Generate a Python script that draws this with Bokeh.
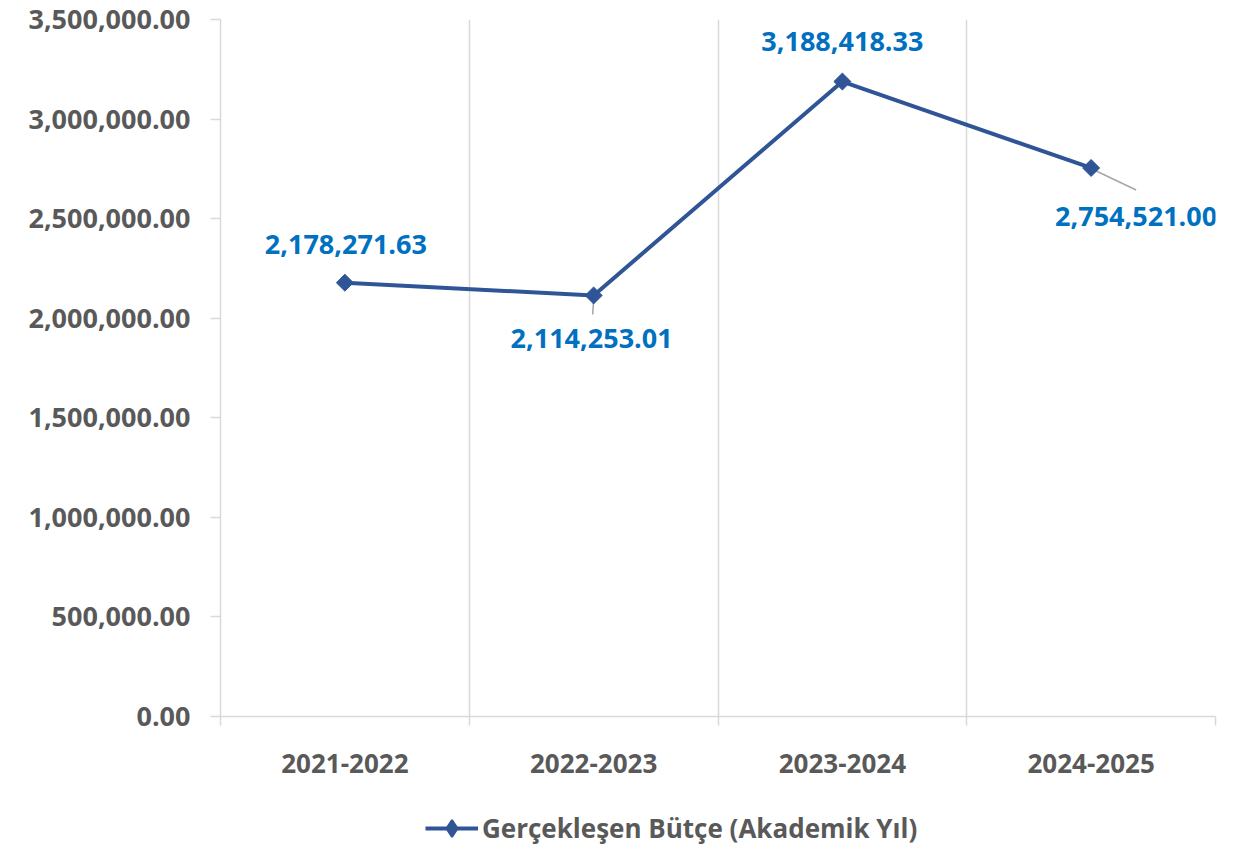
import numpy as np
from bokeh.plotting import figure
from bokeh.layouts import column
from bokeh.models import (ColumnDataSource, Range1d, FixedTicker, NumeralTickFormatter,
                          Legend, LegendItem)
from bokeh.core.properties import value
from bokeh.embed import file_html
from bokeh.resources import INLINE

# ---- data ----
categories = ["2021-2022", "2022-2023", "2023-2024", "2024-2025"]
budget = [2178271.63, 2114253.01, 3188418.33, 2754521.00]
label_texts = ["2,178,271.63", "2,114,253.01", "3,188,418.33", "2,754,521.00"]
y_ticks = [0, 500000, 1000000, 1500000, 2000000, 2500000, 3000000, 3500000]
series_name = "Gerçekleşen Bütçe (Akademik Yıl)"

# ---- layout / style ----
W = 1243
H1, H2 = 790, 59
BL, BR, BT, BB = 220, 28, 19, 74
FONT = "Open Sans"
GRAY = "#595959"
GRID = "#D9D9D9"
LINE = "#2F5597"
LBL = "#0070C0"

n = len(categories)
xs = [i + 0.5 for i in range(n)]
ymin, ymax = y_ticks[0], y_ticks[-1]
frame_h = H1 - BT - BB
frame_w = W - BL - BR
py = (ymax - ymin) / frame_h      # data units per pixel (y)
px = n / frame_w                  # data units per pixel (x)

# label offsets in screen pixels (positive dy = down)
label_dx = [1, -2, 0, 45]
label_dy = [-38, 43, -40, 49]

p = figure(width=W, height=H1, output_backend="svg", toolbar_location=None,
           x_range=Range1d(0, n), y_range=Range1d(ymin, ymax),
           min_border_left=BL, min_border_right=BR, min_border_top=BT,
           min_border_bottom=BB)
p.outline_line_color = None
p.background_fill_color = "white"
p.border_fill_color = "white"

# x axis
xt = FixedTicker(ticks=xs, minor_ticks=list(range(n + 1)))
p.xaxis.ticker = xt
p.xaxis.major_label_overrides = {x: c for x, c in zip(xs, categories)}
p.xaxis.major_tick_line_color = None
p.xaxis.major_tick_out = 0
p.xaxis.minor_tick_out = 9
p.xaxis.minor_tick_in = 0
p.xaxis.minor_tick_line_color = GRID
p.xaxis.minor_tick_line_width = 1.5
p.xaxis.axis_line_color = GRID
p.xaxis.axis_line_width = 1.5
p.xaxis.major_label_standoff = 28
p.xaxis.major_label_text_font = FONT
p.xaxis.major_label_text_font_style = "bold"
p.xaxis.major_label_text_font_size = "26px"
p.xaxis.major_label_text_color = GRAY
p.xgrid.ticker = xt
p.xgrid.grid_line_color = None
p.xgrid.minor_grid_line_color = GRID
p.xgrid.minor_grid_line_width = 1.5

# y axis
p.yaxis.ticker = FixedTicker(ticks=y_ticks)
p.yaxis.formatter = NumeralTickFormatter(format="0,0.00")
p.yaxis.major_tick_out = 10
p.yaxis.major_tick_in = 0
p.yaxis.major_tick_line_color = GRID
p.yaxis.major_tick_line_width = 1.5
p.yaxis.minor_tick_line_color = None
p.yaxis.axis_line_color = GRID
p.yaxis.axis_line_width = 1.5
p.yaxis.major_label_standoff = 20
p.yaxis.major_label_text_font = FONT
p.yaxis.major_label_text_font_style = "bold"
p.yaxis.major_label_text_font_size = "27px"
p.yaxis.major_label_text_color = GRAY
p.ygrid.grid_line_color = None

src = ColumnDataSource(dict(x=xs, y=budget, t=label_texts, dx=label_dx, dy=label_dy))

# leader lines (points 2 and 4)
lead_x0 = [xs[1], xs[3] + 3 * px]
lead_y0 = [budget[1] - 5 * py, budget[3] - 2 * py]
lead_x1 = [xs[1] - 1 * px, xs[3] + 45 * px]
lead_y1 = [budget[1] - 19 * py, budget[3] - 22 * py]
p.segment(lead_x0, lead_y0, lead_x1, lead_y1, line_color="#A6A6A6", line_width=1.5)

p.line("x", "y", source=src, line_color=LINE, line_width=4)
p.scatter("x", "y", source=src, marker="square", angle=np.pi / 4, size=12,
          fill_color=LINE, line_color=LINE)

p.text("x", "y", text="t", source=src, x_offset="dx", y_offset="dy",
       text_font=value(FONT), text_font_style="bold", text_font_size="27px",
       text_color=LBL, text_align="center", text_baseline="middle")

# ---- legend strip below the chart (frame aligned with the chart frame) ----
p2 = figure(width=W, height=H2, output_backend="svg", toolbar_location=None,
            x_range=Range1d(0, 1), y_range=Range1d(0, 1),
            x_axis_location=None, y_axis_location=None,
            min_border_left=0, min_border_right=0, min_border_top=0,
            min_border_bottom=0)
p2.outline_line_color = None
p2.xgrid.grid_line_color = None
p2.ygrid.grid_line_color = None
lg_line = p2.line(x=[np.nan], y=[np.nan], line_color=LINE, line_width=4)
lg_mark = p2.scatter(x=[np.nan], y=[np.nan], marker="diamond",
                     size=16, fill_color=LINE, line_color=LINE, line_width=2)
legend = Legend(items=[LegendItem(label=series_name, renderers=[lg_line, lg_mark])],
                location=(205, 0), orientation="horizontal",
                glyph_width=53, glyph_height=42, label_height=20,
                label_standoff=4, padding=0, margin=0, spacing=0,
                border_line_color=None, background_fill_alpha=0,
                label_text_font=FONT, label_text_font_style="bold",
                label_text_font_size="26px", label_text_color=GRAY)
p2.add_layout(legend, "center")

layout = column(p, p2, spacing=0)
open("out.html", "w").write(file_html(layout, INLINE))
